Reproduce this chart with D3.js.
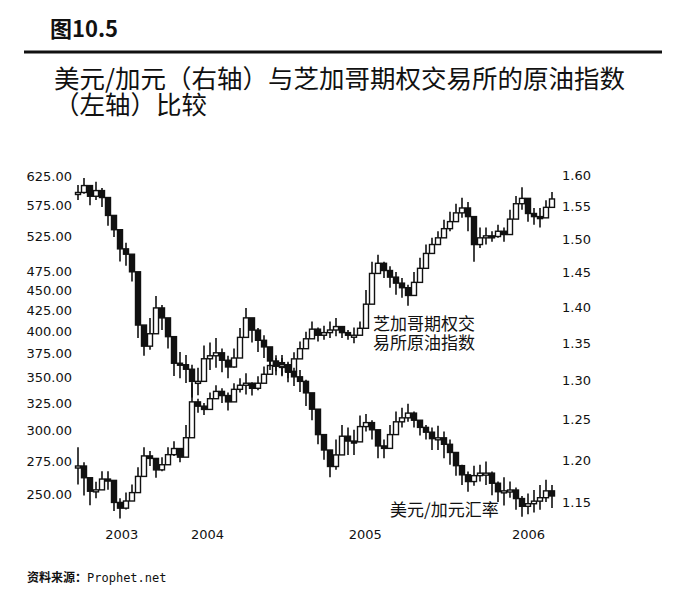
<!DOCTYPE html>
<html>
<head>
<meta charset="utf-8">
<script src="https://cdn.jsdelivr.net/npm/d3@7"></script>
<style>
  body { margin: 0; background: #fff; }
  svg { display: block; }
</style>
</head>
<body>
<div id="chart"></div>
<script>
// tick labels
const oilTicks = [625, 575, 525, 475, 450, 425, 400, 375, 350, 325, 300, 275, 250];
const cadTicks = [1.60, 1.55, 1.50, 1.45, 1.40, 1.35, 1.30, 1.25, 1.20, 1.15];
const yearLabels = ["2003", "2004", "2005", "2006"];
const yearStartBar = [7.2, 21.5, 47.8, 75];

// USD/CAD, right axis (one bar ~ two weeks)
const cadHigh = [
  1.584, 1.595, 1.579, 1.589, 1.579, 1.552, 1.525, 1.505, 1.494, 1.466,
  1.393, 1.360, 1.385, 1.416, 1.403, 1.375, 1.341, 1.338, 1.334, 1.321,
  1.317, 1.347, 1.351, 1.357, 1.343, 1.333, 1.343, 1.371, 1.399, 1.385,
  1.371, 1.361, 1.338, 1.330, 1.334, 1.325, 1.317, 1.314, 1.301, 1.278,
  1.243, 1.225, 1.206, 1.225, 1.243, 1.240, 1.237, 1.255, 1.257, 1.249,
  1.231, 1.225, 1.243, 1.260, 1.265, 1.270, 1.260, 1.249, 1.243, 1.240,
  1.242, 1.235, 1.225, 1.206, 1.194, 1.186, 1.193, 1.194, 1.198, 1.186,
  1.174, 1.179, 1.174, 1.167, 1.157, 1.160, 1.164, 1.170, 1.176, 1.170
];
const cadLow = [
  1.560, 1.570, 1.552, 1.560, 1.549, 1.520, 1.503, 1.466, 1.460, 1.437,
  1.357, 1.333, 1.341, 1.382, 1.368, 1.343, 1.306, 1.303, 1.297, 1.278,
  1.281, 1.311, 1.314, 1.317, 1.311, 1.303, 1.317, 1.346, 1.371, 1.351,
  1.338, 1.330, 1.314, 1.307, 1.307, 1.298, 1.293, 1.285, 1.267, 1.249,
  1.219, 1.200, 1.179, 1.188, 1.215, 1.206, 1.206, 1.227, 1.235, 1.225,
  1.202, 1.202, 1.219, 1.235, 1.240, 1.247, 1.240, 1.230, 1.225, 1.212,
  1.212, 1.202, 1.194, 1.181, 1.170, 1.162, 1.169, 1.174, 1.170, 1.158,
  1.150, 1.146, 1.155, 1.141, 1.133, 1.136, 1.138, 1.141, 1.150, 1.143
];
const cadClose = [
  1.572, 1.583, 1.566, 1.575, 1.564, 1.536, 1.514, 1.485, 1.477, 1.451,
  1.375, 1.346, 1.363, 1.399, 1.385, 1.359, 1.323, 1.321, 1.315, 1.299,
  1.299, 1.329, 1.333, 1.337, 1.327, 1.318, 1.330, 1.358, 1.385, 1.368,
  1.354, 1.345, 1.326, 1.319, 1.321, 1.311, 1.305, 1.299, 1.284, 1.263,
  1.231, 1.212, 1.192, 1.206, 1.229, 1.223, 1.222, 1.241, 1.246, 1.237,
  1.217, 1.214, 1.231, 1.247, 1.252, 1.258, 1.249, 1.240, 1.234, 1.226,
  1.227, 1.219, 1.209, 1.193, 1.182, 1.174, 1.181, 1.184, 1.184, 1.172,
  1.162, 1.163, 1.164, 1.154, 1.145, 1.148, 1.151, 1.155, 1.163, 1.157
];

// CBOE oil index, left axis
const oilHigh = [
  286, 274, 262, 259, 267, 267, 250, 247, 251, 257,
  270, 286, 283, 274, 278, 286, 291, 283, 305, 344,
  329, 325, 335, 342, 339, 335, 344, 349, 354, 345,
  351, 361, 370, 373, 370, 364, 376, 388, 399, 411,
  404, 406, 411, 415, 404, 401, 404, 411, 450, 488,
  498, 488, 482, 474, 466, 457, 474, 494, 513, 523,
  533, 551, 564, 577, 587, 580, 539, 539, 539, 533,
  543, 539, 567, 590, 605, 575, 570, 570, 583, 597
];
const oilLow = [
  257, 249, 242, 247, 255, 253, 238, 233, 239, 246,
  257, 272, 271, 262, 267, 274, 279, 274, 283, 310,
  316, 314, 322, 329, 325, 318, 331, 335, 333, 332,
  337, 345, 355, 356, 351, 349, 362, 373, 384, 394,
  388, 390, 392, 394, 392, 390, 386, 395, 415, 457,
  474, 466, 453, 444, 440, 430, 448, 466, 488, 502,
  513, 523, 533, 548, 554, 533, 488, 508, 513, 517,
  523, 517, 539, 564, 567, 548, 543, 539, 559, 573
];
const oilClose = [
  271, 262, 252, 253, 261, 260, 244, 240, 245, 251,
  263, 279, 277, 268, 272, 280, 285, 278, 294, 326,
  322, 319, 329, 336, 332, 326, 338, 342, 344, 339,
  344, 353, 362, 365, 360, 356, 369, 380, 391, 402,
  395, 398, 401, 405, 398, 395, 395, 403, 432, 472,
  486, 476, 467, 459, 453, 443, 460, 479, 500, 513,
  523, 537, 548, 562, 570, 556, 513, 523, 526, 525,
  533, 528, 552, 577, 586, 561, 556, 554, 571, 585
];

const width = 680, height = 599;
const ink = "#111";

const svg = d3.select("#chart").append("svg")
  .attr("width", width)
  .attr("height", height)
  .style("background", "#fff");

// header
svg.append("text")
  .attr("x", 50).attr("y", 37)
  .attr("font-family", "'Noto Sans CJK SC', sans-serif")
  .attr("font-weight", "bold")
  .attr("font-size", 22)
  .attr("fill", ink)
  .text("图10.5");

svg.append("line")
  .attr("x1", 24).attr("x2", 662)
  .attr("y1", 52).attr("y2", 52)
  .attr("stroke", ink)
  .attr("stroke-width", 3);

const title = svg.append("text")
  .attr("font-family", "'Noto Sans CJK SC', sans-serif")
  .attr("font-size", 25.5)
  .attr("fill", ink);
title.append("tspan").attr("x", 54).attr("y", 88)
  .text("美元/加元（右轴）与芝加哥期权交易所的原油指数");
title.append("tspan").attr("x", 54).attr("y", 114)
  .text("（左轴）比较");

// scales
const x = d3.scaleLinear().domain([0, cadClose.length - 1]).range([78, 552]);
const yOil = d3.scaleLog().domain([250, 625]).range([494, 176]);
const yCad = d3.scaleLog().domain([1.15, 1.60]).range([502, 175]);

// axes (labels only, no lines)
const axisFont = "'DejaVu Sans', Verdana, sans-serif";

const leftAxis = svg.append("g")
  .attr("transform", "translate(75,0)")
  .call(d3.axisLeft(yOil).tickValues(oilTicks).tickFormat(d3.format(".2f")).tickSize(0).tickPadding(3));

const rightAxis = svg.append("g")
  .attr("transform", "translate(559,0)")
  .call(d3.axisRight(yCad).tickValues(cadTicks).tickFormat(d3.format(".2f")).tickSize(0).tickPadding(3));

const xAxis = svg.append("g")
  .attr("transform", "translate(0,530)")
  .call(d3.axisBottom(x).tickValues(yearStartBar).tickFormat((d, i) => yearLabels[i]).tickSize(0).tickPadding(0));

[leftAxis, rightAxis, xAxis].forEach(g => {
  g.select(".domain").remove();
  g.selectAll("text")
    .attr("font-family", axisFont)
    .attr("font-size", 13)
    .attr("fill", ink);
});

// candles: open = previous close
function drawCandles(close, high, low, y) {
  const bars = close.map((c, i) => ({
    i, c, o: i ? close[i - 1] : c, h: high[i], l: low[i]
  }));
  const g = svg.append("g");
  g.selectAll("line")
    .data(bars)
    .join("line")
      .attr("x1", d => x(d.i)).attr("x2", d => x(d.i))
      .attr("y1", d => y(d.h)).attr("y2", d => y(d.l))
      .attr("stroke", ink)
      .attr("stroke-width", 1.6);
  g.selectAll("rect")
    .data(bars)
    .join("rect")
      .attr("x", d => x(d.i) - 2.5)
      .attr("width", 5)
      .attr("y", d => y(Math.max(d.o, d.c)))
      .attr("height", d => Math.max(2, Math.abs(y(d.o) - y(d.c))))
      .attr("fill", d => d.c < d.o ? ink : "#fff")
      .attr("stroke", ink)
      .attr("stroke-width", 1.4);
}

drawCandles(oilClose, oilHigh, oilLow, yOil);
drawCandles(cadClose, cadHigh, cadLow, yCad);

// series labels
const lab = svg.append("g")
  .attr("font-family", "'Noto Sans CJK SC', sans-serif")
  .attr("font-size", 17)
  .attr("fill", ink);
lab.append("text").attr("x", 373).attr("y", 330).text("芝加哥期权交");
lab.append("text").attr("x", 373).attr("y", 349).text("易所原油指数");
lab.append("text").attr("x", 390).attr("y", 516).text("美元/加元汇率");

// source
const src = svg.append("text")
  .attr("x", 27).attr("y", 582)
  .attr("font-size", 12)
  .attr("fill", ink);
src.append("tspan")
  .attr("font-family", "'Noto Sans CJK SC', sans-serif")
  .attr("font-weight", "bold")
  .text("资料来源：");
src.append("tspan")
  .attr("font-family", "'DejaVu Sans Mono', monospace")
  .text("Prophet.net");
</script>
</body>
</html>
